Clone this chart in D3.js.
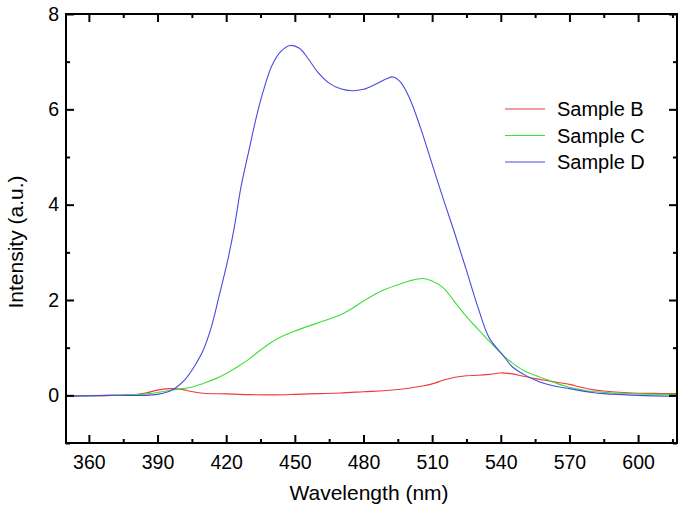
<!DOCTYPE html>
<html><head><meta charset="utf-8">
<script src="https://cdn.jsdelivr.net/npm/d3@7"></script>
<style>body{margin:0;background:#fff}svg{display:block}text{font-family:"Liberation Sans",Arial,sans-serif;fill:#000}</style>
</head><body><svg id="c" width="685" height="514"></svg>
<script>
const wavelengthB = [350,370,380,385,390,395,400,405,410,420,430,440,450,460,470,480,490,500,505,510,515,520,525,530,535,540,545,550,555,560,565,570,575,580,585,590,600,610,617];
const sampleB =     [-0.01,0,0.01,0.05,0.11,0.14,0.13,0.08,0.045,0.03,0.015,0.01,0.02,0.035,0.05,0.075,0.1,0.15,0.19,0.24,0.32,0.38,0.41,0.42,0.44,0.47,0.45,0.4,0.35,0.31,0.27,0.23,0.17,0.12,0.09,0.07,0.045,0.04,0.04];
const wavelengthC = [350,370,385,395,401,405,410,415,420,425,430,435,440,445,450,460,470,475,480,487,495,500,506,510,515,520,525,530,535,541,545,550,555,560,565,570,575,580,590,600,617];
const sampleC =     [-0.01,0,0.03,0.1,0.14,0.17,0.25,0.34,0.46,0.6,0.76,0.95,1.12,1.25,1.35,1.52,1.69,1.82,1.98,2.17,2.32,2.4,2.45,2.4,2.25,1.95,1.65,1.39,1.13,0.84,0.68,0.52,0.42,0.33,0.24,0.17,0.12,0.08,0.05,0.03,0.02];
const wavelengthD = [350,370,385,390,395,398,402,406,410,413.5,417,420.7,423.6,426.5,430,433,436,440,444,448,452,456,460,465,470,475,480,485,490,493,496,500,505,510,515,520,525,530,535,541,545,550,557,565,570,580,585,600,617];
const sampleD =     [-0.02,0,0,0.02,0.08,0.16,0.33,0.6,0.95,1.43,2.1,2.84,3.54,4.38,5.15,5.8,6.35,6.92,7.22,7.34,7.28,7.05,6.78,6.55,6.43,6.39,6.42,6.52,6.64,6.68,6.58,6.25,5.6,4.85,4.1,3.38,2.62,1.85,1.2,0.84,0.6,0.44,0.28,0.18,0.14,0.06,0.035,0.0,-0.02];
const seriesNames = ["Sample B","Sample C","Sample D"];
const seriesColors = ["#ee3a3a","#3ae03a","#4a4ae0"];
const xTicks = [360,390,420,450,480,510,540,570,600];
const xMinor = [375,405,435,465,495,525,555,585,615];
const yTicks = [0,2,4,6,8];
const yMinor = [-1,1,3,5,7];

const svg = d3.select("#c");
const L=66,T=14,R=677,B=443;
const x = d3.scaleLinear().domain([350,617]).range([L,R]);
const y = d3.scaleLinear().domain([-1,8]).range([B,T]);

const series = [
  {name:seriesNames[0], color:seriesColors[0], pts:wavelengthB.map((w,i)=>[w,sampleB[i]])},
  {name:seriesNames[1], color:seriesColors[1], pts:wavelengthC.map((w,i)=>[w,sampleC[i]])},
  {name:seriesNames[2], color:seriesColors[2], pts:wavelengthD.map((w,i)=>[w,sampleD[i]])}
];
const line = d3.line().x(d=>x(d[0])).y(d=>y(d[1])).curve(d3.curveCatmullRom.alpha(0.5));
svg.append("defs").append("clipPath").attr("id","clip").append("rect").attr("x",L).attr("y",T).attr("width",R-L).attr("height",B-T);
const g = svg.append("g").attr("clip-path","url(#clip)");
series.forEach(s=>{
  g.append("path").attr("d",line(s.pts)).attr("fill","none").attr("stroke",s.color).attr("stroke-width",1.1);
});

function axisGroup(axis, tx, ty){ return svg.append("g").attr("transform",`translate(${tx},${ty})`).call(axis); }
const styleAx = sel=>{ sel.select(".domain").remove(); sel.selectAll(".tick line").attr("stroke","#000").attr("stroke-width",2); };
const bx = axisGroup(d3.axisBottom(x).tickValues(xTicks).tickSizeInner(-8).tickPadding(12).tickFormat(d3.format("d")),0,B);
styleAx(bx); bx.selectAll("text").attr("font-size",19.5).attr("font-family","Liberation Sans, Arial");
const bxm = axisGroup(d3.axisBottom(x).tickValues(xMinor).tickSizeInner(-4).tickFormat(""),0,B); styleAx(bxm);
const tx = axisGroup(d3.axisTop(x).tickValues(xTicks).tickSizeInner(-8).tickFormat(""),0,T); styleAx(tx);
const txm = axisGroup(d3.axisTop(x).tickValues(xMinor).tickSizeInner(-4).tickFormat(""),0,T); styleAx(txm);
const ly = axisGroup(d3.axisLeft(y).tickValues(yTicks).tickSizeInner(-8).tickPadding(7).tickFormat(d3.format("d")),L,0);
styleAx(ly); ly.selectAll("text").attr("font-size",19.5).attr("font-family","Liberation Sans, Arial");
const lym = axisGroup(d3.axisLeft(y).tickValues(yMinor).tickSizeInner(-4).tickFormat(""),L,0); styleAx(lym);
const ry = axisGroup(d3.axisRight(y).tickValues(yTicks).tickSizeInner(-8).tickFormat(""),R,0); styleAx(ry);
const rym = axisGroup(d3.axisRight(y).tickValues(yMinor).tickSizeInner(-4).tickFormat(""),R,0); styleAx(rym);

svg.append("rect").attr("x",L).attr("y",T).attr("width",R-L).attr("height",B-T).attr("fill","none").attr("stroke","#000").attr("stroke-width",2);

svg.append("text").attr("x",369).attr("y",500).attr("text-anchor","middle").attr("font-size",21).text("Wavelength (nm)");
svg.append("text").attr("transform",`translate(23,242) rotate(-90)`).attr("text-anchor","middle").attr("font-size",21).text("Intensity (a.u.)");

const lg = svg.append("g");
series.forEach((s,i)=>{
  const yy = 109 + i*26.5;
  lg.append("line").attr("x1",505).attr("x2",545).attr("y1",yy).attr("y2",yy).attr("stroke",s.color).attr("stroke-width",1.1);
  lg.append("text").attr("x",557).attr("y",yy+7).attr("font-size",20).text(s.name);
});
</script></body></html>
